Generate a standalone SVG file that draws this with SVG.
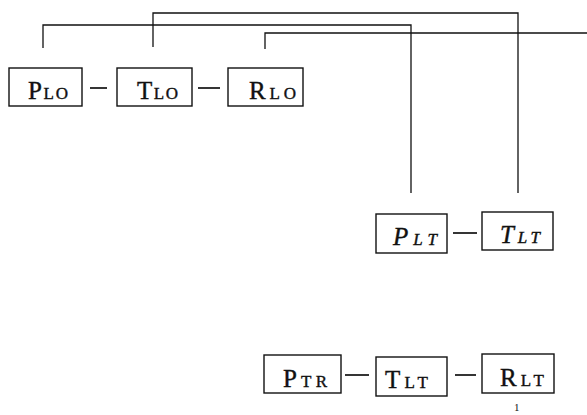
<svg xmlns="http://www.w3.org/2000/svg" width="587" height="415" viewBox="0 0 587 415">
<style>
.box{fill:none;stroke:#111;stroke-width:1.4}
.ln{fill:none;stroke:#111;stroke-width:1.3}
.dash{stroke-width:1.7}
.t{font-family:"Liberation Serif",serif;font-size:25px;fill:#111;stroke:#111;stroke-width:0.4}
.sc{font-size:17px}
.it{font-style:italic}
</style>
<rect width="587" height="415" fill="#fff"/>
<g id="connectors">
<polyline class="ln" points="153,47 153,13 518,13 518,193"/>
<polyline class="ln" points="43,48 43,25 411,25 411,193"/>
<polyline class="ln" points="265,49 265,33 587,33"/>
<line class="ln dash" x1="90" y1="88" x2="107" y2="88"/>
<line class="ln dash" x1="198" y1="88" x2="220" y2="88"/>
<line class="ln dash" x1="453" y1="233" x2="477" y2="233"/>
<line class="ln dash" x1="345" y1="375" x2="369" y2="375"/>
<line class="ln dash" x1="455" y1="375" x2="476" y2="375"/>
</g>
<g id="PLO">
<rect class="box" x="9" y="68" width="73" height="38"/>
<text class="t" x="28" y="99" textLength="40" lengthAdjust="spacing">P<tspan class="sc">LO</tspan></text>
</g>
<g id="TLO">
<rect class="box" x="117" y="68" width="75" height="38"/>
<text class="t" x="137" y="99" textLength="41" lengthAdjust="spacing">T<tspan class="sc">LO</tspan></text>
</g>
<g id="RLO">
<rect class="box" x="228" y="68" width="75" height="38"/>
<text class="t" x="249" y="99" textLength="47" lengthAdjust="spacing">R<tspan class="sc">LO</tspan></text>
</g>
<g id="PLT">
<rect class="box" x="376" y="214" width="71" height="39"/>
<text class="t it" x="393" y="245" textLength="44" lengthAdjust="spacing">P<tspan class="sc">LT</tspan></text>
</g>
<g id="TLT1">
<rect class="box" x="482" y="212" width="71" height="38"/>
<text class="t it" x="500" y="243" textLength="40" lengthAdjust="spacing">T<tspan class="sc">LT</tspan></text>
</g>
<g id="PTR">
<rect class="box" x="264" y="355" width="77" height="38"/>
<text class="t" x="283" y="387" textLength="44" lengthAdjust="spacing">P<tspan class="sc">TR</tspan></text>
</g>
<g id="TLT2">
<rect class="box" x="376" y="357" width="71" height="39"/>
<text class="t" x="385" y="388" textLength="43" lengthAdjust="spacing">T<tspan class="sc">LT</tspan></text>
</g>
<g id="RLT">
<rect class="box" x="482" y="354" width="72" height="39"/>
<text class="t" x="500" y="386" textLength="44" lengthAdjust="spacing">R<tspan class="sc">LT</tspan></text>
</g>
<text x="514" y="411" style="font-family:'Liberation Serif',serif;font-size:11px;fill:#111">1</text>
</svg>
